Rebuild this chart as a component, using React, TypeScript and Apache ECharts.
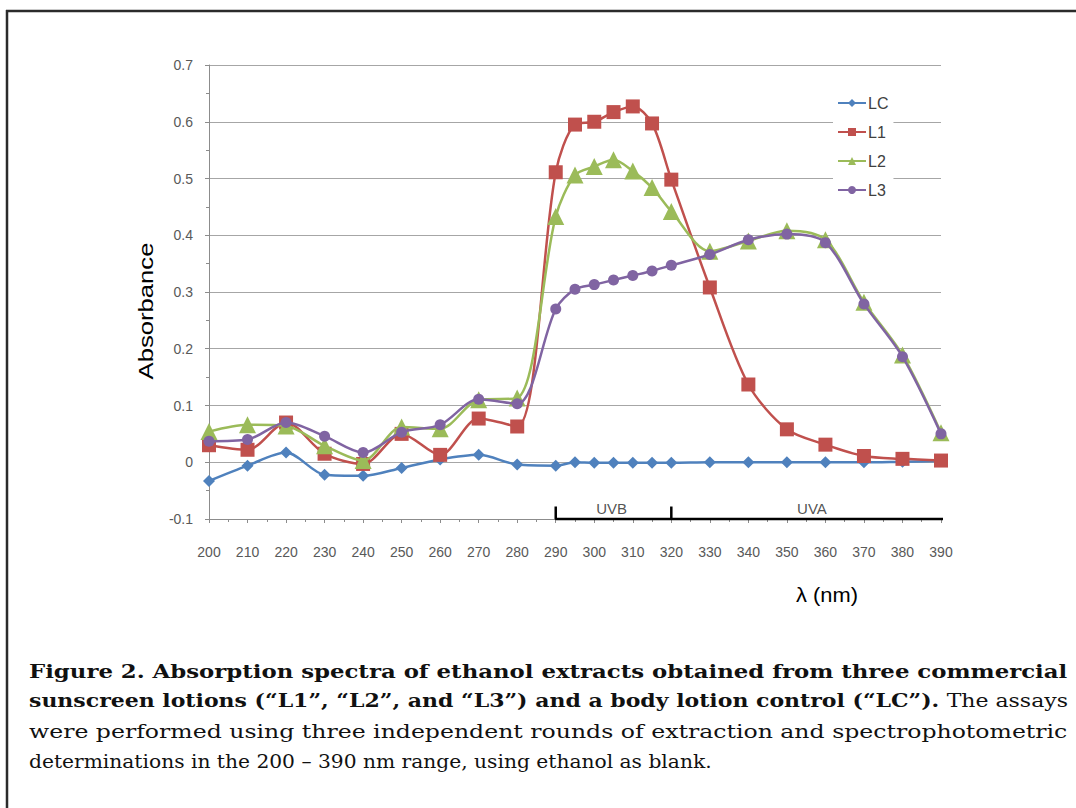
import React, { useEffect, useRef } from "react";
import * as echarts from "echarts";

const wavelengths = [200, 210, 220, 230, 240, 250, 260, 270, 280, 290, 295, 300, 305, 310, 315, 320, 330, 340, 350, 360, 370, 380, 390];
const lcValues = [-0.033, -0.006, 0.017, -0.022, -0.024, -0.01, 0.005, 0.013, -0.004, -0.006, 0.0, -0.001, -0.001, -0.001, -0.001, -0.001, 0.0, 0.0, 0.0, 0.0, 0.0, 0.001, 0.002];
const l1Values = [0.03, 0.022, 0.07, 0.015, -0.003, 0.05, 0.013, 0.077, 0.063, 0.511, 0.595, 0.6, 0.617, 0.627, 0.597, 0.498, 0.308, 0.137, 0.058, 0.031, 0.011, 0.006, 0.003];
const l2Values = [0.054, 0.066, 0.064, 0.029, 0.003, 0.062, 0.059, 0.11, 0.113, 0.433, 0.506, 0.521, 0.533, 0.513, 0.484, 0.442, 0.372, 0.39, 0.408, 0.392, 0.282, 0.189, 0.052];
const l3Values = [0.037, 0.04, 0.07, 0.046, 0.017, 0.053, 0.066, 0.111, 0.103, 0.27, 0.305, 0.313, 0.321, 0.329, 0.337, 0.347, 0.366, 0.392, 0.402, 0.387, 0.279, 0.186, 0.05];

const seriesNames = ["LC", "L1", "L2", "L3"];
const seriesColors = ["#4F81BD", "#C0504D", "#9BBB59", "#8064A2"];
const seriesSymbols = ["diamond", "rect", "triangle", "circle"];
const seriesSymbolSizes = [12, 14, 17, 11];

const bandNames = ["UVB", "UVA"];
const bandLabelX = [304.5, 356.5];
const uvbBracket = [[290, -0.078], [290, -0.1], [395, -0.1], [395, -0.078]];
const uvDivider = [[320, -0.1], [320, -0.078]];

const yTitle = "Absorbance";
const xTitle = "λ (nm)";
const captionLine1 = "Figure 2. Absorption spectra of ethanol extracts obtained from three commercial";
const captionLine2Bold = "sunscreen lotions (“L1”, “L2”, and “L3”) and a body lotion control (“LC”).";
const captionLine2Normal = " The assays";
const captionLine3 = "were performed using three independent rounds of extraction and spectrophotometric";
const captionLine4 = "determinations in the 200 – 390 nm range, using ethanol as blank.";

function measure(font: string, text: string): number {
  const ctx = document.createElement("canvas").getContext("2d");
  if (!ctx) return text.length * 10;
  ctx.font = font;
  return ctx.measureText(text).width;
}

export default function App() {
  const ref = useRef<HTMLDivElement>(null);

  useEffect(() => {
    if (!ref.current) return;
    const chart = echarts.init(ref.current, undefined, { renderer: "svg" });

    const serif = '"DejaVu Serif"';
    const capSize = 19;
    const boldFont = `bold ${capSize}px ${serif}`;
    const normFont = `${capSize}px ${serif}`;
    const capLeft = 29;
    const capWidth = 1039;
    const s1 = capWidth / measure(boldFont, captionLine1);
    const s2 = capWidth / (measure(boldFont, captionLine2Bold) + measure(normFont, captionLine2Normal));
    const s3 = capWidth / measure(normFont, captionLine3);
    const s4 = 683 / measure(normFont, captionLine4);

    const sansTitle = '20px "Liberation Sans"';
    const sYT = 137 / measure(sansTitle, yTitle);
    const sXT = 62 / measure(sansTitle, xTitle);

    const lineSeries = [lcValues, l1Values, l2Values, l3Values].map((vals, i) => ({
      name: seriesNames[i],
      type: "line",
      data: wavelengths.map((w, j) => [w, vals[j]]),
      smooth: 0.3,
      symbol: seriesSymbols[i],
      symbolSize: seriesSymbolSizes[i],
      lineStyle: { color: seriesColors[i], width: 2.5 },
      itemStyle: { color: seriesColors[i] },
      z: 5 + i,
    }));

    const option: any = {
      animation: false,
      backgroundColor: "#ffffff",
      grid: { left: 209, top: 65, width: 732, height: 454 },
      xAxis: {
        type: "value",
        min: 200,
        max: 390,
        interval: 10,
        axisLine: { onZero: false, lineStyle: { color: "#8c8c8c", width: 1 } },
        axisTick: { show: true, length: 4, lineStyle: { color: "#8c8c8c" } },
        minorTick: { show: true, splitNumber: 2, length: 3, lineStyle: { color: "#8c8c8c" } },
        splitLine: { show: false },
        axisLabel: { margin: 26, color: "#595959", fontSize: 14, fontFamily: "Liberation Sans" },
      },
      yAxis: {
        type: "value",
        min: -0.1,
        max: 0.7,
        interval: 0.1,
        axisLine: { show: true, lineStyle: { color: "#8c8c8c", width: 1 } },
        axisTick: { show: true, length: 4, lineStyle: { color: "#8c8c8c" } },
        minorTick: { show: true, splitNumber: 2, length: 3, lineStyle: { color: "#8c8c8c" } },
        splitLine: { show: true, lineStyle: { color: "#a6a6a6", width: 1.2 } },
        axisLabel: {
          margin: 16,
          color: "#595959",
          fontSize: 14,
          fontFamily: "Liberation Sans",
          formatter: (v: number) => (Math.abs(v) < 1e-9 ? "0" : String(Math.round(v * 10) / 10)),
        },
      },
      legend: {
        orient: "vertical",
        left: 833,
        top: 92,
        data: seriesNames,
        itemWidth: 28,
        itemHeight: 10,
        itemGap: 13,
        backgroundColor: "#ffffff",
        padding: [3, 5, 3, 4],
        textStyle: { fontSize: 16, color: "#404040", fontFamily: "Liberation Sans", padding: [0, 0, 0, -3] },
      },
      series: [
        ...lineSeries,
        {
          name: "bracket",
          type: "line",
          data: uvbBracket,
          clip: false,
          symbol: "none",
          silent: true,
          lineStyle: { color: "#000000", width: 2.5 },
          z: 3,
        },
        {
          name: "divider",
          type: "line",
          data: uvDivider,
          clip: false,
          symbol: "none",
          silent: true,
          lineStyle: { color: "#000000", width: 2.5 },
          z: 3,
        },
        {
          name: "bands",
          type: "scatter",
          symbolSize: 0,
          silent: true,
          data: bandNames.map((n, i) => ({ name: n, value: [bandLabelX[i], -0.1] })),
          label: {
            show: true,
            position: "top",
            distance: 3,
            formatter: (p: any) => p.name,
            fontSize: 15,
            color: "#262626",
            fontFamily: "Liberation Sans",
          },
          z: 3,
        },
      ],
      graphic: [
        { type: "line", shape: { x1: 6, y1: 11, x2: 1076, y2: 11 }, style: { stroke: "#2b2b2b", lineWidth: 2.5 } },
        { type: "line", shape: { x1: 7, y1: 10, x2: 7, y2: 808 }, style: { stroke: "#2b2b2b", lineWidth: 2.5 } },
        {
          type: "text",
          x: 146,
          y: 311,
          rotation: Math.PI / 2,
          scaleX: sYT,
          style: { text: yTitle, font: sansTitle, fill: "#000", align: "center", verticalAlign: "middle" },
        },
        {
          type: "text",
          x: 827,
          y: 595,
          scaleX: sXT,
          style: { text: xTitle, font: sansTitle, fill: "#000", align: "center", verticalAlign: "middle" },
        },
        {
          type: "text",
          x: capLeft,
          y: 671,
          scaleX: s1,
          style: { text: captionLine1, font: boldFont, fill: "#111", align: "left", verticalAlign: "middle" },
        },
        {
          type: "text",
          x: capLeft,
          y: 701,
          scaleX: s2,
          style: {
            text: `{b|${captionLine2Bold}}{n|${captionLine2Normal}}`,
            align: "left",
            verticalAlign: "middle",
            rich: {
              b: { fontFamily: "DejaVu Serif", fontWeight: "bold", fontSize: capSize, fill: "#111", color: "#111" },
              n: { fontFamily: "DejaVu Serif", fontWeight: "normal", fontSize: capSize, fill: "#111", color: "#111" },
            },
          },
        },
        {
          type: "text",
          x: capLeft,
          y: 731,
          scaleX: s3,
          style: { text: captionLine3, font: normFont, fill: "#111", align: "left", verticalAlign: "middle" },
        },
        {
          type: "text",
          x: capLeft,
          y: 762,
          scaleX: s4,
          style: { text: captionLine4, font: normFont, fill: "#111", align: "left", verticalAlign: "middle" },
        },
      ],
    };

    chart.setOption(option);
    return () => chart.dispose();
  }, []);

  return <div ref={ref} style={{ position: "absolute", left: 0, top: 0, width: 1076, height: 808 }} />;
}
